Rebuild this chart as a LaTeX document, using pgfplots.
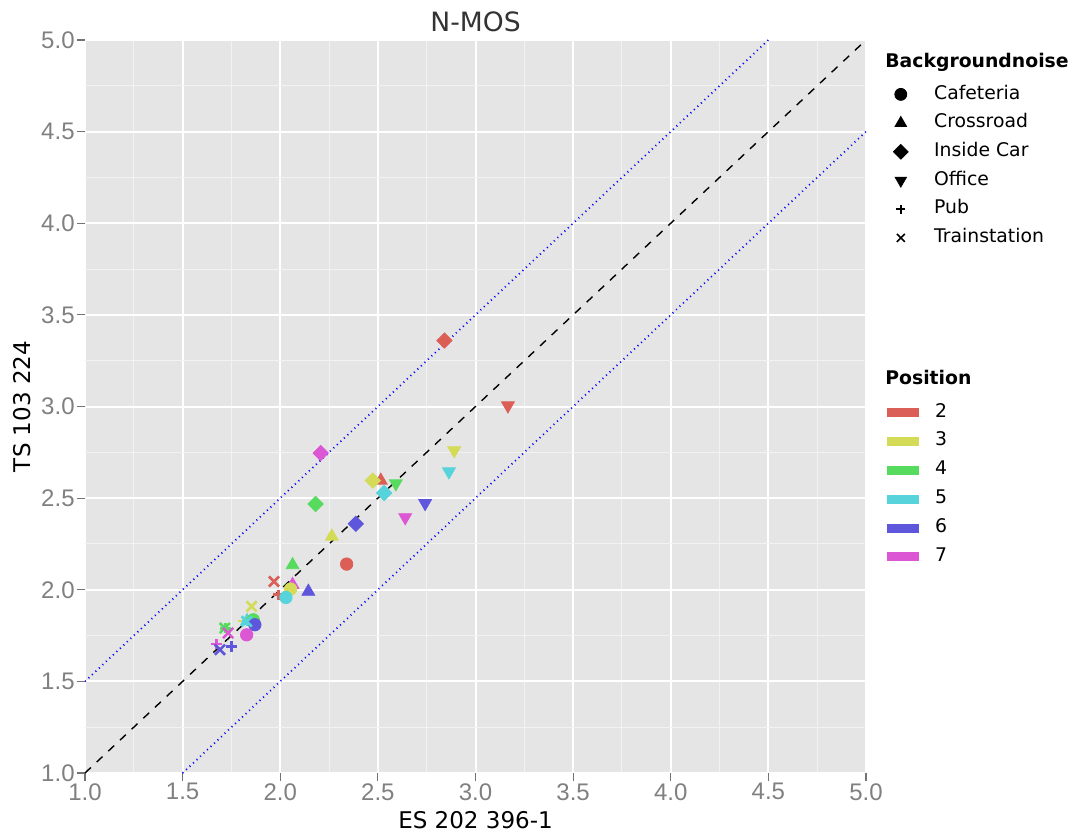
\documentclass[border=0pt]{standalone}
\usepackage{pgfplots}
\pgfplotsset{compat=1.18}
\usepackage{pgfplotstable}
\usepackage{fontspec}
\setmainfont{DejaVu Sans}
\newfontfamily\tickfont{Liberation Sans}
\definecolor{c2}{RGB}{219,95,87}
\definecolor{c3}{RGB}{211,219,87}
\definecolor{c4}{RGB}{87,219,95}
\definecolor{c5}{RGB}{87,211,219}
\definecolor{c6}{RGB}{95,87,219}
\definecolor{c7}{RGB}{219,87,211}
\definecolor{bg}{RGB}{229,229,229}
\definecolor{mgrid}{RGB}{242,242,242}

\pgfplotstableread{
x y p
2.340 2.140 2
2.053 2.004 3
1.862 1.836 4
2.029 1.958 5
1.870 1.809 6
1.828 1.754 7
}\cafeteria
\pgfplotstableread{
x y p
2.515 2.596 2
2.264 2.291 3
2.063 2.135 4
1.830 1.830 5
2.144 1.990 6
2.063 2.027 7
}\crossroad
\pgfplotstableread{
x y p
2.841 3.360 2
2.474 2.596 3
2.181 2.468 4
2.532 2.528 5
2.387 2.360 6
2.207 2.746 7
}\insidecar
\pgfplotstableread{
x y p
3.166 3.005 2
2.891 2.760 3
2.592 2.580 4
2.864 2.645 5
2.742 2.472 6
2.640 2.395 7
}\office
\pgfplotstableread{
x y p
1.990 1.973 2
1.810 1.830 3
1.720 1.790 4
1.830 1.830 5
1.751 1.691 6
1.674 1.704 7
}\pub
\pgfplotstableread{
x y p
1.968 2.045 2
1.853 1.909 3
1.716 1.791 4
1.828 1.827 5
1.691 1.673 6
1.733 1.764 7
}\trainstation

\pgfplotsset{
  poscls/.style={scatter, only marks, scatter src=explicit symbolic,
    scatter/classes={2={draw=c2,fill=c2},3={draw=c3,fill=c3},4={draw=c4,fill=c4},
      5={draw=c5,fill=c5},6={draw=c6,fill=c6},7={draw=c7,fill=c7}}},
  barlegend/.style={legend image code/.code={\fill[#1] (0pt,-2pt) rectangle (15.5pt,2pt);}},
}

\begin{document}
\begin{tikzpicture}
\begin{axis}[
  name=main,
  scale only axis, width=390.5pt, height=366.5pt,
  xmin=1, xmax=5, ymin=1, ymax=5,
  xtick={1,1.5,...,5}, ytick={1,1.5,...,5},
  minor tick num=1, minor tick length=0pt,
  major tick length=4pt, tick align=outside,
  xtick pos=left, ytick pos=left,
  tick style={color=black!55, line width=0.6pt},
  axis line style={draw=none},
  axis background/.style={fill=bg},
  grid=both,
  major grid style={white, line width=1pt},
  minor grid style={mgrid, line width=0.5pt},
  /pgf/number format/.cd, fixed, fixed zerofill, precision=1, assume math mode=true,
  /pgfplots/.cd,
  tick label style={font=\tickfont\fontsize{12}{14}\selectfont, text=black!50},
  xticklabel style={inner sep=1pt},
  yticklabel style={inner sep=1pt},
  title={N-MOS},
  title style={at={(axis description cs:0.5,1.0082)}, anchor=center, font=\fontsize{13.3}{16}\selectfont, text=black!80},
  xlabel={ES 202 396-1},
  xlabel style={at={(axis description cs:0.5,-0.0641)}, anchor=center, font=\fontsize{11.5}{14}\selectfont},
  ylabel={TS 103 224},
  ylabel style={at={(axis description cs:-0.0807,0.5)}, anchor=center, font=\fontsize{11.5}{14}\selectfont},
  clip=true,
]
\addplot[black, line width=0.7pt, dash pattern=on 4pt off 4pt] coordinates {(1,1) (5,5)};
\addplot[blue, line width=0.9pt, dash pattern=on 0.5pt off 1.9pt] coordinates {(1,1.5) (4.5,5)};
\addplot[blue, line width=0.9pt, dash pattern=on 0.5pt off 1.9pt] coordinates {(1.5,1) (5,4.5)};

\addplot[poscls, mark=+, mark size=2.6pt, mark options={line width=1.3pt}] table[x=x,y=y,meta=p] {\pub};
\addplot[poscls, mark=triangle*, mark size=3.7pt] table[x=x,y=y,meta=p] {\crossroad};
\addplot[poscls, mark=*, mark size=3.1pt] table[x=x,y=y,meta=p] {\cafeteria};
\addplot[poscls, mark=square*, mark size=2.7pt, mark options={rotate=45}] table[x=x,y=y,meta=p] {\insidecar};
\addplot[poscls, mark=triangle*, mark size=3.7pt, mark options={rotate=180}] table[x=x,y=y,meta=p] {\office};
\addplot[poscls, mark=x, mark size=3.6pt, mark options={line width=1.3pt}] table[x=x,y=y,meta=p] {\trainstation};
\end{axis}

% legend: Backgroundnoise
\begin{axis}[
  at={(main.south west)}, anchor=south west,
  scale only axis, width=390.5pt, height=366.5pt,
  xmin=0, xmax=1, ymin=0, ymax=1, hide axis, clip=false,
  legend style={at={(rel axis cs:1.0346,0.9459)}, anchor=north west, draw=none, fill=none,
    inner sep=0pt, row sep=0pt, column sep=13pt,
    font=\fontsize{9.4}{11}\selectfont,
    nodes={inner sep=0pt, text height=9.5pt, text depth=4.85pt}},
  legend cell align=left,
]
\node[anchor=west, inner sep=0pt, font=\bfseries\fontsize{9.4}{11}\selectfont] at (rel axis cs:1.0243,0.970) {Backgroundnoise};
\addlegendimage{only marks, mark=*, black, mark size=3pt}
\addlegendentry{Cafeteria}
\addlegendimage{only marks, mark=triangle*, black, mark size=3.3pt}
\addlegendentry{Crossroad}
\addlegendimage{only marks, mark=square*, black, mark size=2.6pt, mark options={rotate=45}}
\addlegendentry{Inside Car}
\addlegendimage{only marks, mark=triangle*, black, mark size=3.3pt, mark options={rotate=180}}
\addlegendentry{Office}
\addlegendimage{only marks, mark=+, black, mark size=2.2pt, mark options={line width=0.8pt}}
\addlegendentry{Pub}
\addlegendimage{only marks, mark=x, black, mark size=2.8pt, mark options={line width=0.8pt}}
\addlegendentry{Trainstation}
\end{axis}

% legend: Position
\begin{axis}[
  at={(main.south west)}, anchor=south west,
  scale only axis, width=390.5pt, height=366.5pt,
  xmin=0, xmax=1, ymin=0, ymax=1, hide axis, clip=false,
  legend style={at={(rel axis cs:1.0269,0.5121)}, anchor=north west, draw=none, fill=none,
    inner sep=0pt, row sep=0.1pt, column sep=8pt,
    font=\fontsize{9.4}{11}\selectfont,
    nodes={inner sep=0pt, text height=9.5pt, text depth=4.85pt}},
  legend cell align=left,
]
\node[anchor=west, inner sep=0pt, font=\bfseries\fontsize{9.4}{11}\selectfont] at (rel axis cs:1.0243,0.539) {Position};
\addlegendimage{barlegend=c2}\addlegendentry{2}
\addlegendimage{barlegend=c3}\addlegendentry{3}
\addlegendimage{barlegend=c4}\addlegendentry{4}
\addlegendimage{barlegend=c5}\addlegendentry{5}
\addlegendimage{barlegend=c6}\addlegendentry{6}
\addlegendimage{barlegend=c7}\addlegendentry{7}
\end{axis}

\pgfresetboundingbox
\path[use as bounding box] ([shift={(-42.5pt,-31.5pt)}]main.south west) rectangle ([shift={(494.5pt,386.5pt)}]main.south west);
\end{tikzpicture}
\end{document}
